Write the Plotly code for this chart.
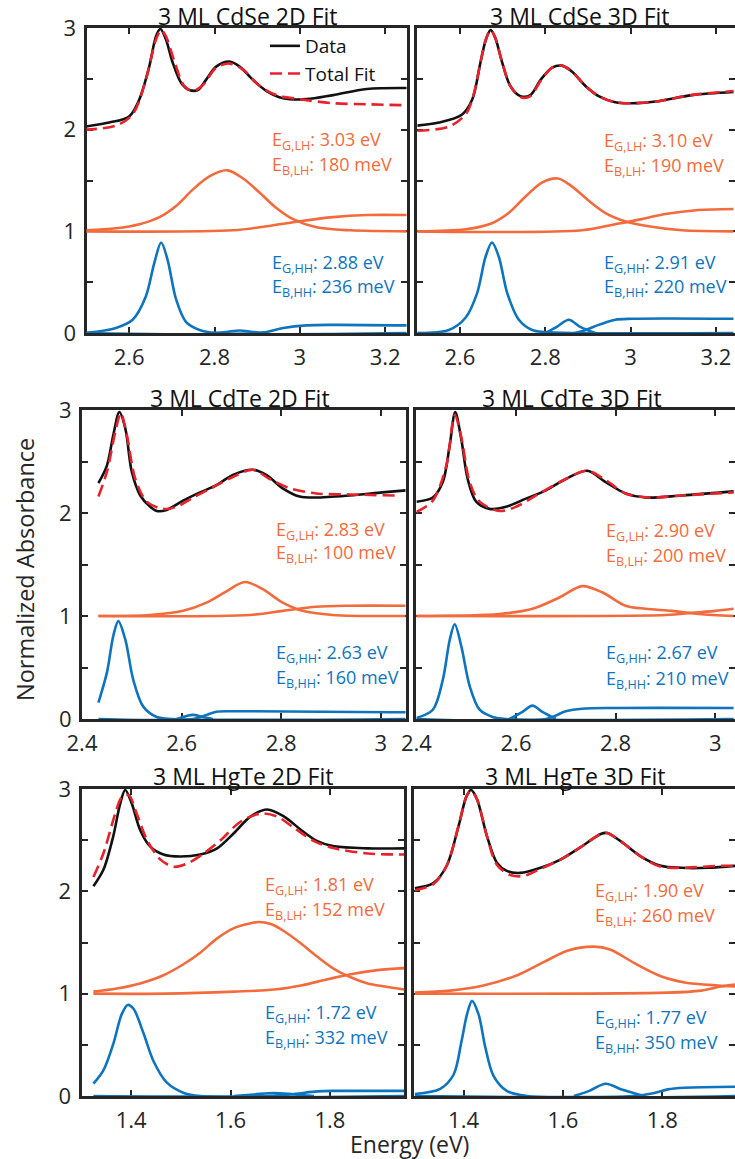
import plotly.graph_objects as go

# ---------------- 3 ML CdSe, 2D fit ----------------
CDSE2D_DATA_X = [2.496, 2.553, 2.600, 2.624, 2.647, 2.663, 2.673, 2.686, 2.702, 2.722, 2.741, 2.761, 2.780, 2.804, 2.835, 2.859, 2.890, 2.922, 2.961, 3.016, 3.078, 3.157, 3.253]
CDSE2D_DATA_Y = [2.03, 2.07, 2.13, 2.30, 2.62, 2.92, 2.99, 2.89, 2.66, 2.46, 2.39, 2.39, 2.49, 2.62, 2.67, 2.62, 2.49, 2.38, 2.31, 2.30, 2.34, 2.40, 2.41]
CDSE2D_FIT_X = [2.496, 2.569, 2.608, 2.639, 2.663, 2.675, 2.686, 2.706, 2.729, 2.749, 2.773, 2.804, 2.835, 2.867, 2.906, 2.945, 3.000, 3.078, 3.157, 3.253]
CDSE2D_FIT_Y = [2.00, 2.04, 2.15, 2.49, 2.89, 2.98, 2.92, 2.67, 2.43, 2.38, 2.44, 2.61, 2.65, 2.59, 2.43, 2.34, 2.30, 2.26, 2.25, 2.24]
CDSE2D_LH_PEAK_X = [2.496, 2.569, 2.624, 2.671, 2.710, 2.749, 2.788, 2.830, 2.867, 2.906, 2.945, 2.984, 3.039, 3.118, 3.253]
CDSE2D_LH_PEAK_Y = [1.01, 1.03, 1.07, 1.14, 1.25, 1.41, 1.54, 1.60, 1.52, 1.38, 1.23, 1.12, 1.04, 1.01, 1.00]
CDSE2D_LH_STEP_X = [2.496, 2.843, 2.922, 3.000, 3.078, 3.157, 3.253]
CDSE2D_LH_STEP_Y = [1.00, 1.01, 1.05, 1.10, 1.14, 1.16, 1.16]
CDSE2D_HH_PEAK_X = [2.496, 2.569, 2.608, 2.639, 2.659, 2.675, 2.690, 2.710, 2.733, 2.765, 2.804, 3.253]
CDSE2D_HH_PEAK_Y = [0.00, 0.05, 0.13, 0.36, 0.69, 0.89, 0.72, 0.33, 0.11, 0.03, 0.00, 0.00]
CDSE2D_HH_BUMP_X = [2.796, 2.827, 2.859, 2.890, 2.922]
CDSE2D_HH_BUMP_Y = [0.00, 0.01, 0.025, 0.01, 0.00]
CDSE2D_HH_STEP_X = [2.496, 2.906, 2.961, 3.016, 3.078, 3.253]
CDSE2D_HH_STEP_Y = [0.00, 0.00, 0.05, 0.075, 0.08, 0.075]

# ---------------- 3 ML CdSe, 3D fit ----------------
CDSE3D_DATA_X = [2.500, 2.551, 2.605, 2.629, 2.648, 2.661, 2.672, 2.683, 2.699, 2.718, 2.742, 2.765, 2.789, 2.816, 2.839, 2.863, 2.894, 2.925, 2.964, 3.003, 3.065, 3.143, 3.241]
CDSE3D_DATA_Y = [2.04, 2.07, 2.15, 2.30, 2.66, 2.89, 2.98, 2.90, 2.66, 2.43, 2.33, 2.34, 2.49, 2.61, 2.63, 2.57, 2.43, 2.33, 2.27, 2.26, 2.28, 2.34, 2.37]
CDSE3D_FIT_X = [2.500, 2.574, 2.613, 2.629, 2.648, 2.661, 2.672, 2.683, 2.699, 2.718, 2.742, 2.765, 2.789, 2.816, 2.839, 2.863, 2.894, 2.925, 2.964, 3.003, 3.065, 3.143, 3.241]
CDSE3D_FIT_Y = [1.99, 2.03, 2.15, 2.30, 2.66, 2.89, 2.98, 2.90, 2.66, 2.43, 2.32, 2.33, 2.48, 2.61, 2.63, 2.57, 2.43, 2.33, 2.27, 2.26, 2.28, 2.34, 2.38]
CDSE3D_LH_PEAK_X = [2.500, 2.613, 2.675, 2.714, 2.753, 2.792, 2.830, 2.863, 2.902, 2.941, 2.987, 3.042, 3.120, 3.241]
CDSE3D_LH_PEAK_Y = [1.00, 1.02, 1.08, 1.18, 1.34, 1.48, 1.52, 1.44, 1.30, 1.18, 1.10, 1.05, 1.01, 1.00]
CDSE3D_LH_STEP_X = [2.500, 2.886, 2.964, 3.026, 3.081, 3.159, 3.241]
CDSE3D_LH_STEP_Y = [1.00, 1.01, 1.07, 1.12, 1.17, 1.21, 1.22]
CDSE3D_HH_PEAK_X = [2.500, 2.574, 2.613, 2.640, 2.660, 2.675, 2.691, 2.711, 2.738, 2.769, 2.800, 3.241]
CDSE3D_HH_PEAK_Y = [0.00, 0.03, 0.15, 0.39, 0.75, 0.89, 0.75, 0.39, 0.13, 0.03, 0.01, 0.00]
CDSE3D_HH_BUMP_X = [2.800, 2.827, 2.855, 2.882, 2.917]
CDSE3D_HH_BUMP_Y = [0.00, 0.06, 0.13, 0.06, 0.00]
CDSE3D_HH_STEP_X = [2.500, 2.870, 2.925, 2.964, 3.003, 3.241]
CDSE3D_HH_STEP_Y = [0.00, 0.00, 0.08, 0.13, 0.14, 0.14]

# ---------------- 3 ML CdTe, 2D fit ----------------
CDTE2D_DATA_X = [2.433, 2.450, 2.463, 2.475, 2.487, 2.500, 2.517, 2.537, 2.550, 2.570, 2.603, 2.637, 2.670, 2.703, 2.743, 2.770, 2.803, 2.837, 2.870, 2.937, 3.003, 3.050]
CDTE2D_DATA_Y = [2.29, 2.46, 2.76, 2.98, 2.82, 2.40, 2.17, 2.06, 2.02, 2.03, 2.12, 2.20, 2.27, 2.37, 2.42, 2.37, 2.24, 2.16, 2.15, 2.17, 2.20, 2.22]
CDTE2D_FIT_X = [2.433, 2.450, 2.467, 2.478, 2.490, 2.507, 2.530, 2.563, 2.590, 2.623, 2.663, 2.703, 2.743, 2.777, 2.817, 2.870, 2.937, 3.030]
CDTE2D_FIT_Y = [2.16, 2.40, 2.79, 2.97, 2.76, 2.33, 2.11, 2.04, 2.06, 2.15, 2.25, 2.35, 2.42, 2.33, 2.24, 2.19, 2.18, 2.17]
CDTE2D_LH_PEAK_X = [2.433, 2.537, 2.603, 2.650, 2.690, 2.727, 2.763, 2.803, 2.843, 2.903, 3.050]
CDTE2D_LH_PEAK_Y = [1.00, 1.01, 1.05, 1.13, 1.24, 1.33, 1.26, 1.13, 1.05, 1.01, 1.00]
CDTE2D_LH_STEP_X = [2.433, 2.737, 2.803, 2.870, 2.937, 3.050]
CDTE2D_LH_STEP_Y = [1.00, 1.01, 1.05, 1.09, 1.10, 1.10]
CDTE2D_HH_PEAK_X = [2.433, 2.450, 2.463, 2.473, 2.487, 2.503, 2.523, 2.550, 2.583, 3.050]
CDTE2D_HH_PEAK_Y = [0.16, 0.45, 0.81, 0.95, 0.77, 0.38, 0.12, 0.02, 0.00, 0.00]
CDTE2D_HH_BUMP_X = [2.590, 2.610, 2.623, 2.643, 2.663]
CDTE2D_HH_BUMP_Y = [0.00, 0.03, 0.04, 0.02, 0.00]
CDTE2D_HH_STEP_X = [2.433, 2.623, 2.650, 2.670, 2.703, 3.050]
CDTE2D_HH_STEP_Y = [0.00, 0.00, 0.04, 0.07, 0.075, 0.065]

# ---------------- 3 ML CdTe, 3D fit ----------------
CDTE3D_DATA_X = [2.400, 2.433, 2.453, 2.467, 2.478, 2.490, 2.503, 2.520, 2.547, 2.580, 2.620, 2.660, 2.700, 2.743, 2.780, 2.820, 2.860, 2.933, 3.037]
CDTE3D_DATA_Y = [2.11, 2.15, 2.30, 2.66, 2.98, 2.72, 2.33, 2.11, 2.04, 2.06, 2.14, 2.22, 2.33, 2.41, 2.30, 2.19, 2.15, 2.17, 2.21]
CDTE3D_FIT_X = [2.400, 2.433, 2.460, 2.477, 2.490, 2.507, 2.527, 2.567, 2.600, 2.647, 2.700, 2.743, 2.780, 2.820, 2.867, 2.933, 3.037]
CDTE3D_FIT_Y = [2.01, 2.12, 2.46, 2.95, 2.74, 2.30, 2.11, 2.02, 2.06, 2.19, 2.33, 2.41, 2.32, 2.19, 2.15, 2.17, 2.20]
CDTE3D_LH_PEAK_X = [2.400, 2.567, 2.633, 2.687, 2.733, 2.773, 2.820, 2.860, 2.913, 2.967, 3.037]
CDTE3D_LH_PEAK_Y = [1.00, 1.02, 1.07, 1.18, 1.29, 1.23, 1.10, 1.07, 1.05, 1.02, 1.00]
CDTE3D_LH_STEP_X = [2.400, 2.900, 2.953, 3.000, 3.037]
CDTE3D_LH_STEP_Y = [1.00, 1.01, 1.03, 1.05, 1.07]
CDTE3D_HH_PEAK_X = [2.400, 2.433, 2.453, 2.467, 2.477, 2.490, 2.507, 2.527, 2.553, 2.580, 3.037]
CDTE3D_HH_PEAK_Y = [0.01, 0.09, 0.38, 0.77, 0.92, 0.71, 0.32, 0.09, 0.02, 0.00, 0.00]
CDTE3D_HH_BUMP_X = [2.587, 2.613, 2.633, 2.653, 2.680]
CDTE3D_HH_BUMP_Y = [0.00, 0.07, 0.13, 0.07, 0.00]
CDTE3D_HH_STEP_X = [2.400, 2.660, 2.700, 2.733, 2.800, 3.037]
CDTE3D_HH_STEP_Y = [0.00, 0.00, 0.075, 0.10, 0.107, 0.107]

# ---------------- 3 ML HgTe, 2D fit ----------------
HGTE2D_DATA_X = [1.324, 1.344, 1.364, 1.378, 1.388, 1.401, 1.418, 1.438, 1.465, 1.499, 1.539, 1.573, 1.607, 1.640, 1.674, 1.708, 1.742, 1.775, 1.809, 1.876, 1.950]
HGTE2D_DATA_Y = [2.05, 2.21, 2.54, 2.86, 2.99, 2.86, 2.60, 2.44, 2.36, 2.34, 2.36, 2.42, 2.57, 2.73, 2.80, 2.73, 2.60, 2.49, 2.44, 2.42, 2.42]
HGTE2D_FIT_X = [1.324, 1.344, 1.368, 1.381, 1.395, 1.411, 1.432, 1.459, 1.486, 1.512, 1.546, 1.580, 1.620, 1.661, 1.694, 1.728, 1.768, 1.809, 1.876, 1.950]
HGTE2D_FIT_Y = [2.14, 2.37, 2.76, 2.92, 2.94, 2.76, 2.50, 2.31, 2.24, 2.27, 2.37, 2.50, 2.68, 2.76, 2.73, 2.62, 2.49, 2.42, 2.37, 2.36]
HGTE2D_LH_PEAK_X = [1.324, 1.371, 1.418, 1.465, 1.506, 1.539, 1.573, 1.607, 1.634, 1.657, 1.681, 1.708, 1.742, 1.775, 1.809, 1.842, 1.876, 1.910, 1.950]
HGTE2D_LH_PEAK_Y = [1.02, 1.05, 1.10, 1.18, 1.29, 1.40, 1.54, 1.64, 1.68, 1.70, 1.68, 1.61, 1.49, 1.36, 1.24, 1.16, 1.10, 1.07, 1.04]
HGTE2D_LH_STEP_X = [1.324, 1.472, 1.607, 1.688, 1.742, 1.795, 1.842, 1.896, 1.950]
HGTE2D_LH_STEP_Y = [1.00, 1.00, 1.02, 1.04, 1.08, 1.14, 1.19, 1.23, 1.25]
HGTE2D_HH_PEAK_X = [1.324, 1.344, 1.364, 1.381, 1.393, 1.405, 1.425, 1.445, 1.472, 1.506, 1.539, 1.950]
HGTE2D_HH_PEAK_Y = [0.12, 0.25, 0.51, 0.80, 0.89, 0.85, 0.61, 0.34, 0.13, 0.03, 0.00, 0.00]
HGTE2D_HH_BUMP_X = [1.607, 1.647, 1.688, 1.728, 1.768]
HGTE2D_HH_BUMP_Y = [0.00, 0.015, 0.03, 0.015, 0.00]
HGTE2D_HH_STEP_X = [1.324, 1.674, 1.728, 1.775, 1.809, 1.876, 1.950]
HGTE2D_HH_STEP_Y = [0.00, 0.00, 0.02, 0.045, 0.05, 0.05, 0.05]

# ---------------- 3 ML HgTe, 3D fit ----------------
HGTE3D_DATA_X = [1.302, 1.339, 1.366, 1.390, 1.406, 1.415, 1.427, 1.447, 1.467, 1.487, 1.514, 1.555, 1.595, 1.635, 1.676, 1.689, 1.716, 1.757, 1.797, 1.838, 1.892, 1.949]
HGTE3D_DATA_Y = [2.03, 2.08, 2.25, 2.64, 2.93, 2.99, 2.90, 2.54, 2.28, 2.20, 2.18, 2.23, 2.31, 2.43, 2.56, 2.57, 2.49, 2.34, 2.25, 2.23, 2.23, 2.25]
HGTE3D_FIT_X = [1.302, 1.339, 1.366, 1.390, 1.406, 1.415, 1.427, 1.447, 1.467, 1.494, 1.521, 1.555, 1.595, 1.635, 1.676, 1.689, 1.716, 1.757, 1.797, 1.838, 1.919, 1.949]
HGTE3D_FIT_Y = [2.01, 2.07, 2.25, 2.64, 2.93, 2.98, 2.90, 2.54, 2.26, 2.16, 2.15, 2.22, 2.31, 2.43, 2.56, 2.57, 2.49, 2.34, 2.24, 2.23, 2.25, 2.25]
HGTE3D_LH_PEAK_X = [1.302, 1.373, 1.440, 1.508, 1.562, 1.609, 1.662, 1.696, 1.743, 1.797, 1.845, 1.912, 1.949]
HGTE3D_LH_PEAK_Y = [1.01, 1.03, 1.08, 1.18, 1.31, 1.42, 1.46, 1.43, 1.30, 1.17, 1.11, 1.08, 1.07]
HGTE3D_LH_STEP_X = [1.302, 1.811, 1.878, 1.918, 1.949]
HGTE3D_LH_STEP_Y = [1.00, 1.01, 1.03, 1.07, 1.09]
HGTE3D_HH_PEAK_X = [1.302, 1.353, 1.380, 1.396, 1.407, 1.417, 1.430, 1.444, 1.460, 1.487, 1.528, 1.949]
HGTE3D_HH_PEAK_Y = [0.02, 0.07, 0.21, 0.54, 0.80, 0.93, 0.80, 0.47, 0.20, 0.05, 0.00, 0.00]
HGTE3D_HH_BUMP_X = [1.622, 1.653, 1.686, 1.720, 1.763]
HGTE3D_HH_BUMP_Y = [0.00, 0.05, 0.12, 0.06, 0.00]
HGTE3D_HH_STEP_X = [1.302, 1.743, 1.784, 1.811, 1.845, 1.949]
HGTE3D_HH_STEP_Y = [0.00, 0.00, 0.03, 0.065, 0.08, 0.09]

# panel titles and fitted energies (LH gap, LH binding, HH gap, HH binding)
TITLES = ["3 ML CdSe 2D Fit", "3 ML CdSe 3D Fit", "3 ML CdTe 2D Fit",
          "3 ML CdTe 3D Fit", "3 ML HgTe 2D Fit", "3 ML HgTe 3D Fit"]
E_G_LH = ["3.03 eV", "3.10 eV", "2.83 eV", "2.90 eV", "1.81 eV", "1.90 eV"]
E_B_LH = ["180 meV", "190 meV", "100 meV", "200 meV", "152 meV", "260 meV"]
E_G_HH = ["2.88 eV", "2.91 eV", "2.63 eV", "2.67 eV", "1.72 eV", "1.77 eV"]
E_B_HH = ["236 meV", "220 meV", "160 meV", "210 meV", "332 meV", "350 meV"]

X_TICKS_CDSE = [2.6, 2.8, 3.0, 3.2]
X_TICKTEXT_CDSE = ["2.6", "2.8", "3", "3.2"]
X_TICKS_CDTE = [2.4, 2.6, 2.8, 3.0]
X_TICKTEXT_CDTE = ["2.4", "2.6", "2.8", "3"]
X_TICKS_HGTE = [1.4, 1.6, 1.8]
X_TICKTEXT_HGTE = ["1.4", "1.6", "1.8"]
Y_TICKS = [0, 1, 2, 3]
Y_TICKTEXT = ["0", "1", "2", "3"]
Y_MINOR_STEP = 0.5

# ---------------------------------------------------------------------------
W, H = 735, 1159
FONT = "Open Sans"
BLACK = "#111111"
RED = "#E8222B"
ORANGE = "#F26B3C"
BLUE = "#0E74BE"
AXIS = "#262626"

panels = [
    dict(data=(CDSE2D_DATA_X, CDSE2D_DATA_Y), fit=(CDSE2D_FIT_X, CDSE2D_FIT_Y),
         lh=[(CDSE2D_LH_PEAK_X, CDSE2D_LH_PEAK_Y), (CDSE2D_LH_STEP_X, CDSE2D_LH_STEP_Y)],
         hh=[(CDSE2D_HH_PEAK_X, CDSE2D_HH_PEAK_Y), (CDSE2D_HH_BUMP_X, CDSE2D_HH_BUMP_Y), (CDSE2D_HH_STEP_X, CDSE2D_HH_STEP_Y)],
         ticks=(X_TICKS_CDSE, X_TICKTEXT_CDSE)),
    dict(data=(CDSE3D_DATA_X, CDSE3D_DATA_Y), fit=(CDSE3D_FIT_X, CDSE3D_FIT_Y),
         lh=[(CDSE3D_LH_PEAK_X, CDSE3D_LH_PEAK_Y), (CDSE3D_LH_STEP_X, CDSE3D_LH_STEP_Y)],
         hh=[(CDSE3D_HH_PEAK_X, CDSE3D_HH_PEAK_Y), (CDSE3D_HH_BUMP_X, CDSE3D_HH_BUMP_Y), (CDSE3D_HH_STEP_X, CDSE3D_HH_STEP_Y)],
         ticks=(X_TICKS_CDSE, X_TICKTEXT_CDSE)),
    dict(data=(CDTE2D_DATA_X, CDTE2D_DATA_Y), fit=(CDTE2D_FIT_X, CDTE2D_FIT_Y),
         lh=[(CDTE2D_LH_PEAK_X, CDTE2D_LH_PEAK_Y), (CDTE2D_LH_STEP_X, CDTE2D_LH_STEP_Y)],
         hh=[(CDTE2D_HH_PEAK_X, CDTE2D_HH_PEAK_Y), (CDTE2D_HH_BUMP_X, CDTE2D_HH_BUMP_Y), (CDTE2D_HH_STEP_X, CDTE2D_HH_STEP_Y)],
         ticks=(X_TICKS_CDTE, X_TICKTEXT_CDTE)),
    dict(data=(CDTE3D_DATA_X, CDTE3D_DATA_Y), fit=(CDTE3D_FIT_X, CDTE3D_FIT_Y),
         lh=[(CDTE3D_LH_PEAK_X, CDTE3D_LH_PEAK_Y), (CDTE3D_LH_STEP_X, CDTE3D_LH_STEP_Y)],
         hh=[(CDTE3D_HH_PEAK_X, CDTE3D_HH_PEAK_Y), (CDTE3D_HH_BUMP_X, CDTE3D_HH_BUMP_Y), (CDTE3D_HH_STEP_X, CDTE3D_HH_STEP_Y)],
         ticks=(X_TICKS_CDTE, X_TICKTEXT_CDTE)),
    dict(data=(HGTE2D_DATA_X, HGTE2D_DATA_Y), fit=(HGTE2D_FIT_X, HGTE2D_FIT_Y),
         lh=[(HGTE2D_LH_PEAK_X, HGTE2D_LH_PEAK_Y), (HGTE2D_LH_STEP_X, HGTE2D_LH_STEP_Y)],
         hh=[(HGTE2D_HH_PEAK_X, HGTE2D_HH_PEAK_Y), (HGTE2D_HH_BUMP_X, HGTE2D_HH_BUMP_Y), (HGTE2D_HH_STEP_X, HGTE2D_HH_STEP_Y)],
         ticks=(X_TICKS_HGTE, X_TICKTEXT_HGTE)),
    dict(data=(HGTE3D_DATA_X, HGTE3D_DATA_Y), fit=(HGTE3D_FIT_X, HGTE3D_FIT_Y),
         lh=[(HGTE3D_LH_PEAK_X, HGTE3D_LH_PEAK_Y), (HGTE3D_LH_STEP_X, HGTE3D_LH_STEP_Y)],
         hh=[(HGTE3D_HH_PEAK_X, HGTE3D_HH_PEAK_Y), (HGTE3D_HH_BUMP_X, HGTE3D_HH_BUMP_Y), (HGTE3D_HH_STEP_X, HGTE3D_HH_STEP_Y)],
         ticks=(X_TICKS_HGTE, X_TICKTEXT_HGTE)),
]

# layout geometry in pixels: (left, right) of each panel, (top, bottom) of each row
PANEL_X_PX = [(86.5, 406.5), (417.3, 735), (82, 405.7), (416.4, 735), (81.5, 404.4), (413.9, 735)]
ROW_Y_PX = [(28, 333), (410, 719), (789, 1096)]
X_RANGES = [(2.5, 3.25), (2.5, 3.2446), (2.4, 3.05), (2.4, 3.0398), (1.3, 1.95), (1.3, 1.9463)]
TITLE_X_PX = [248, 580, 240, 572, 243, 575]
TITLE_Y_PX = [16, 398, 776]
# label anchor: left x, and vertical centers of the four lines
LABEL_X_PX = [270, 602, 274, 604, 263, 593]
LABEL_Y_PX = [(137, 162, 260, 285), (138.5, 163.5, 260, 285), (527, 550, 650, 675),
              (528.5, 553.5, 650, 676), (882, 907, 1010, 1035), (888, 913, 1015, 1040)]


def px_x(p):
    return p / W


def px_y(p):
    return 1 - p / H


fig = go.Figure()
LW = 2.6
spline = dict(shape="spline", smoothing=0.9)

for i, p in enumerate(panels):
    n = i + 1
    xa, ya = f"x{n}", f"y{n}"
    for cx, cy in p["lh"]:
        fig.add_trace(go.Scatter(x=cx, y=cy, mode="lines", xaxis=xa, yaxis=ya, showlegend=False,
                                 line=dict(color=ORANGE, width=LW, **spline), hoverinfo="skip"))
    for cx, cy in p["hh"]:
        fig.add_trace(go.Scatter(x=cx, y=cy, mode="lines", xaxis=xa, yaxis=ya, showlegend=False,
                                 line=dict(color=BLUE, width=LW, **spline), hoverinfo="skip"))
    fig.add_trace(go.Scatter(x=p["data"][0], y=p["data"][1], mode="lines", xaxis=xa, yaxis=ya,
                             name="Data", legendgroup="data", showlegend=(i == 0),
                             line=dict(color=BLACK, width=LW, **spline)))
    fig.add_trace(go.Scatter(x=p["fit"][0], y=p["fit"][1], mode="lines", xaxis=xa, yaxis=ya,
                             name="Total Fit", legendgroup="fit", showlegend=(i == 0),
                             line=dict(color=RED, width=LW, dash="12px,6px", **spline)))

layout = dict(
    width=W, height=H, margin=dict(l=0, r=0, t=0, b=0, pad=0, autoexpand=False),
    paper_bgcolor="white", plot_bgcolor="white",
    font=dict(family=FONT, color="#111111", size=20),
    showlegend=True,
    legend=dict(x=px_x(265), y=px_y(27), xanchor="left", yanchor="top",
                bgcolor="rgba(0,0,0,0)", font=dict(size=19, family=FONT, color="#111111"),
                itemwidth=30, tracegroupgap=0),
)

tick_font = dict(family=FONT, size=22, color="#262626")
minor_y = dict(dtick=Y_MINOR_STEP, ticks="inside", ticklen=6, tickwidth=2, tickcolor=AXIS,
               showgrid=False)

for i, p in enumerate(panels):
    n = i + 1
    row = i // 2
    left_col = (i % 2 == 0)
    x0, x1 = PANEL_X_PX[i]
    top, bot = ROW_Y_PX[row]
    layout[f"xaxis{n}"] = dict(
        domain=[px_x(x0), min(px_x(x1), 1.0)], range=list(X_RANGES[i]), anchor=f"y{n}",
        tickvals=p["ticks"][0], ticktext=p["ticks"][1], ticks="inside", ticklen=6, tickwidth=2,
        tickcolor=AXIS, showline=True, linecolor=AXIS, linewidth=3, mirror="ticks",
        showgrid=False, zeroline=False, tickfont=tick_font, ticklabelstandoff=3,
        layer="below traces", fixedrange=True, automargin=False,
    )
    layout[f"yaxis{n}"] = dict(
        domain=[px_y(bot), px_y(top)], range=[0, 3], anchor=f"x{n}",
        tickvals=Y_TICKS, ticktext=Y_TICKTEXT, ticks="inside", ticklen=6, tickwidth=2,
        tickcolor=AXIS, showline=True, linecolor=AXIS, linewidth=3, minor=minor_y,
        mirror="ticks" if left_col else False, showticklabels=left_col,
        showgrid=False, zeroline=False, tickfont=tick_font, ticklabelstandoff=3,
        layer="below traces", fixedrange=True, automargin=False,
    )

# right-hand tick marks for the right column (their frame runs past the page edge)
for k, n in enumerate([2, 4, 6]):
    m = 7 + k
    layout[f"yaxis{m}"] = dict(
        overlaying=f"y{n}", side="right", anchor=f"x{n}", range=[0, 3],
        tickvals=Y_TICKS, ticks="inside", ticklen=6, tickwidth=2, tickcolor=AXIS, minor=minor_y,
        showticklabels=False, showline=False, showgrid=False, zeroline=False,
        layer="below traces", fixedrange=True, automargin=False,
    )
    fig.add_trace(go.Scatter(x=[], y=[], xaxis=f"x{n}", yaxis=f"y{m}", showlegend=False,
                             hoverinfo="skip"))

fig.update_layout(**layout)

annotations = []
for i in range(6):
    row = i // 2
    annotations.append(dict(text=TITLES[i], x=px_x(TITLE_X_PX[i]), y=px_y(TITLE_Y_PX[row]),
                            xref="paper", yref="paper", showarrow=False,
                            xanchor="center", yanchor="middle",
                            font=dict(family=FONT, size=23, color="#111111")))
    lines = [(f"E<sub>G,LH</sub>: {E_G_LH[i]}", ORANGE), (f"E<sub>B,LH</sub>: {E_B_LH[i]}", ORANGE),
             (f"E<sub>G,HH</sub>: {E_G_HH[i]}", BLUE), (f"E<sub>B,HH</sub>: {E_B_HH[i]}", BLUE)]
    for (txt, col), yc in zip(lines, LABEL_Y_PX[i]):
        annotations.append(dict(text=txt, x=px_x(LABEL_X_PX[i]), y=px_y(yc + 3),
                                xref="paper", yref="paper", showarrow=False,
                                xanchor="left", yanchor="middle",
                                font=dict(family=FONT, size=18, color=col)))

annotations.append(dict(text="Normalized Absorbance", x=px_x(25), y=px_y(570), xref="paper",
                        yref="paper", showarrow=False, textangle=-90, xanchor="center",
                        yanchor="middle", font=dict(family=FONT, size=23.5, color="#262626")))
annotations.append(dict(text="Energy (eV)", x=px_x(409), y=px_y(1144), xref="paper",
                        yref="paper", showarrow=False, xanchor="center", yanchor="middle",
                        font=dict(family=FONT, size=23, color="#262626")))
fig.update_layout(annotations=annotations)

fig.write_html("out.html", config={"displayModeBar": False},
               post_script="document.body.style.margin='0';")
